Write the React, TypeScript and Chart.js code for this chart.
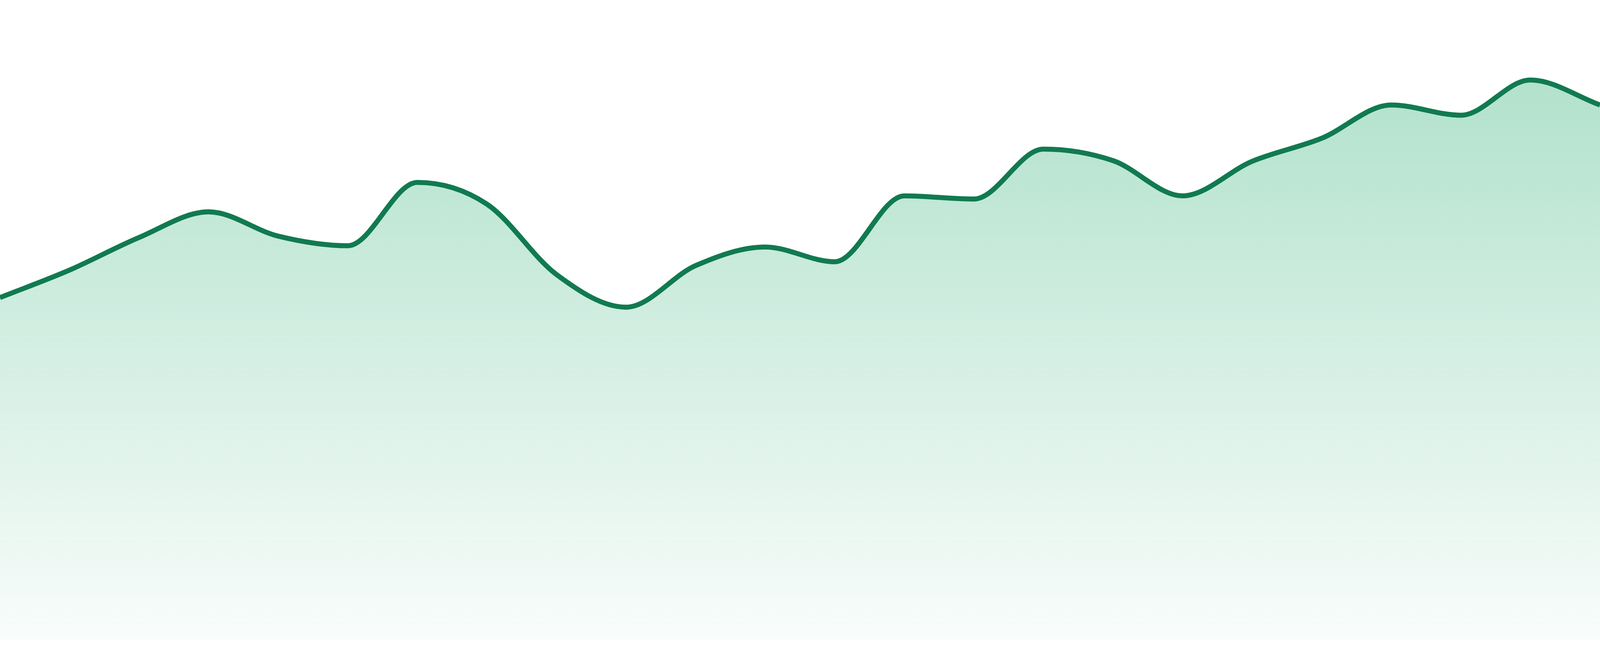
import React, { useEffect, useRef } from "react";
import { Chart, registerables } from "chart.js";

Chart.register(...registerables);

const categories: string[] = [
  "1", "2", "3", "4", "5", "6", "7", "8", "9", "10", "11", "12",
  "13", "14", "15", "16", "17", "18", "19", "20", "21", "22", "23", "24",
];

const seriesValues: number[] = [
  53.5, 57.8, 62.9, 66.9, 63.1, 61.6, 71.5, 68.1, 57.1, 52.0, 58.5, 61.4,
  59.1, 69.4, 68.9, 76.7, 74.9, 69.4, 74.8, 78.4, 83.6, 82.0, 87.5, 83.6,
];

const yMin = 0;
const yMax = 100;

const LINE_COLOR = "#117a50";
const FILL_TOP = "rgba(52,178,123,0.43)";
const FILL_BOTTOM = "rgba(52,178,123,0.03)";

export default function App() {
  const canvasRef = useRef<HTMLCanvasElement | null>(null);

  useEffect(() => {
    document.body.style.margin = "0";
    document.body.style.overflow = "hidden";
    const canvas = canvasRef.current;
    if (!canvas) return;
    const s = 4800 / (window.innerWidth || 4800);
    const chart = new Chart(canvas, {
      type: "line",
      data: {
        labels: categories,
        datasets: [
          {
            data: seriesValues,
            borderColor: LINE_COLOR,
            borderWidth: 15 / s,
            pointRadius: 0,
            pointHoverRadius: 0,
            cubicInterpolationMode: "monotone",
            fill: "start",
            backgroundColor: (context: any) => {
              const chartRef = context.chart;
              const area = chartRef.chartArea;
              if (!area) return FILL_TOP;
              const g = chartRef.ctx.createLinearGradient(0, area.top, 0, area.bottom);
              g.addColorStop(0, FILL_TOP);
              g.addColorStop(1, FILL_BOTTOM);
              return g;
            },
          },
        ],
      },
      options: {
        responsive: true,
        maintainAspectRatio: false,
        animation: false,
        layout: { padding: { top: 0, left: 0, right: 0, bottom: 48 / s } },
        plugins: {
          legend: { display: false },
          tooltip: { enabled: false },
        },
        scales: {
          x: { display: false, offset: false },
          y: { display: false, min: yMin, max: yMax },
        },
      },
    });
    return () => chart.destroy();
  }, []);

  return (
    <div style={{ position: "relative", width: "100vw", height: "100vh", background: "#ffffff" }}>
      <canvas ref={canvasRef} />
    </div>
  );
}
